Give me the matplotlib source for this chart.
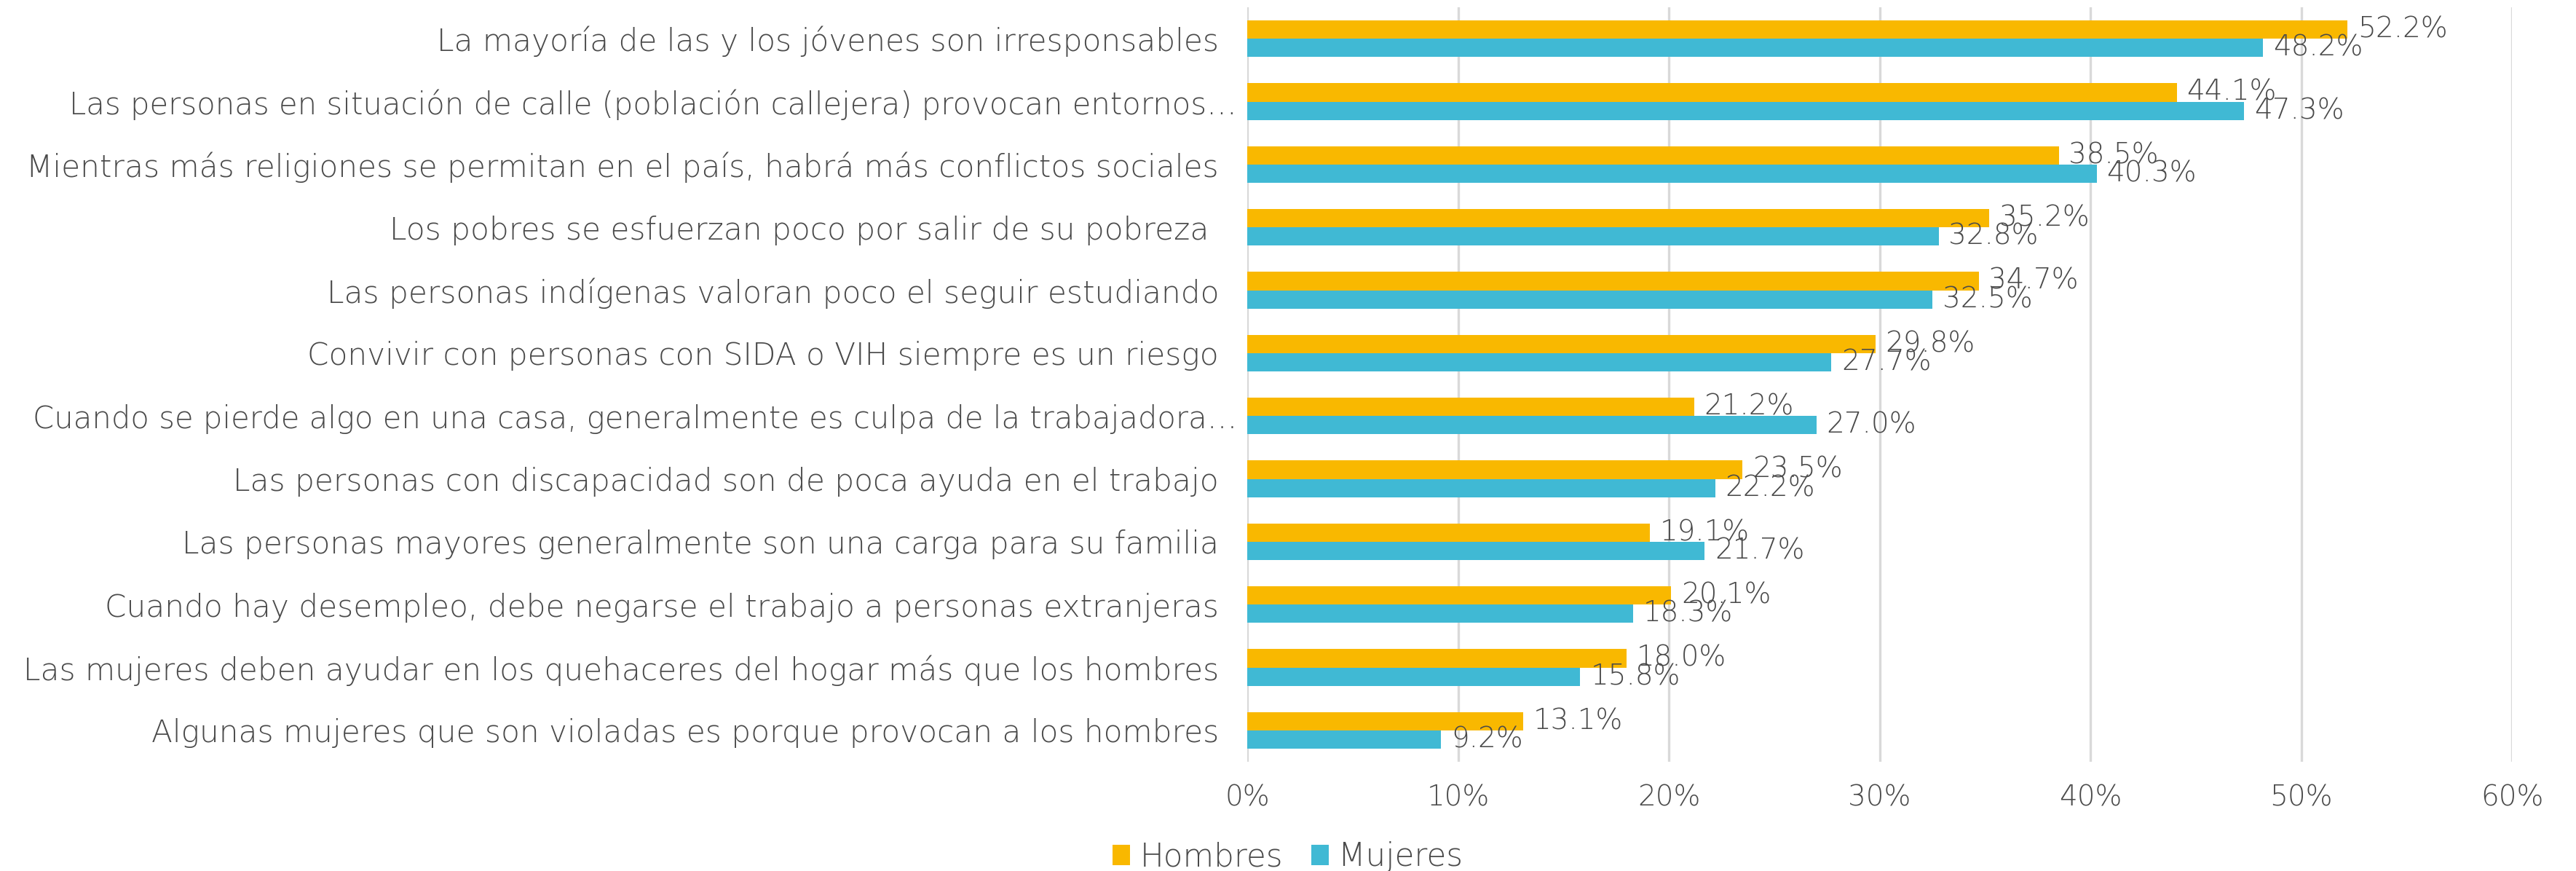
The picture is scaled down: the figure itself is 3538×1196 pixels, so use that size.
import matplotlib
matplotlib.use("Agg")
import matplotlib.pyplot as plt
from matplotlib import font_manager
import numpy as np

categories = [
    "La mayoría de las y los jóvenes son irresponsables",
    "Las personas en situación de calle (población callejera) provocan entornos…",
    "Mientras más religiones se permitan en el país, habrá más conflictos sociales",
    "Los pobres se esfuerzan poco por salir de su pobreza ",
    "Las personas indígenas valoran poco el seguir estudiando",
    "Convivir con personas con SIDA o VIH siempre es un riesgo",
    "Cuando se pierde algo en una casa, generalmente es culpa de la trabajadora…",
    "Las personas con discapacidad son de poca ayuda en el trabajo",
    "Las personas mayores generalmente son una carga para su familia",
    "Cuando hay desempleo, debe negarse el trabajo a personas extranjeras",
    "Las mujeres deben ayudar en los quehaceres del hogar más que los hombres",
    "Algunas mujeres que son violadas es porque provocan a los hombres",
]
hombres = [52.2, 44.1, 38.5, 35.2, 34.7, 29.8, 21.2, 23.5, 19.1, 20.1, 18.0, 13.1]
mujeres = [48.2, 47.3, 40.3, 32.8, 32.5, 27.7, 27.0, 22.2, 21.7, 18.3, 15.8, 9.2]
series_names = ["Hombres", "Mujeres"]
xticks = [0, 10, 20, 30, 40, 50, 60]

C_H = "#F9B800"
C_M = "#40B9D4"
TXT = "#4A4A4A"
GRID = "#D9D9D9"

plt.rcParams['font.family'] = ['DejaVu Sans']
light = any(f.name == 'DejaVu Sans' and (f.weight if isinstance(f.weight, int) else 400) <= 300
            for f in font_manager.fontManager.ttflist)
W = 'light' if light else 'normal'

fig = plt.figure(figsize=(3538/200, 1196/200), dpi=200)
ax = fig.add_axes([1713/3538, 1 - 1046/1196, (3450-1713)/3538, (1046-10)/1196])

y = np.arange(len(categories))
h = 0.29
bh = ax.barh(y - h/2, hombres, height=h, color=C_H, label=series_names[0], zorder=3)
bm = ax.barh(y + h/2, mujeres, height=h, color=C_M, label=series_names[1], zorder=3)

for rects, vals in ((bh, hombres), (bm, mujeres)):
    for r, v in zip(rects, vals):
        ax.annotate(f"{v:.1f}%", (r.get_width(), r.get_y() + r.get_height()/2),
                    xytext=(5, 0), textcoords="offset points",
                    ha="left", va="center", fontsize=14, color=TXT,
                    fontweight=W, zorder=5)

ax.set_ylim(len(categories) - 0.5, -0.5)
ax.set_xlim(0, 60)
ax.set_xticks(xticks)
ax.set_xticklabels([f"{t}%" for t in xticks], fontsize=14, color=TXT, fontweight=W)
ax.set_yticks(y)
ax.set_yticklabels(categories, fontsize=15.2, color=TXT, fontweight=W)
ax.tick_params(axis="both", length=0)
ax.tick_params(axis="x", pad=11)
for i, (t, lab) in enumerate(zip(ax.yaxis.get_major_ticks(), ax.get_yticklabels())):
    if categories[i].endswith("…"):
        t.set_pad(5)
        lab.set_fontsize(15.05)
    else:
        t.set_pad(14)
ax.xaxis.grid(True, color=GRID, linewidth=1.2, zorder=0)
ax.set_axisbelow(True)
for s in ax.spines.values():
    s.set_visible(False)

leg = fig.legend(handles=[bh, bm], labels=series_names, loc="center",
                 bbox_to_anchor=(0.5, 1 - 1177/1196), ncol=2, frameon=False,
                 prop={'size': 15.7, 'weight': W}, labelcolor=TXT,
                 handlelength=0.55, handleheight=0.6,
                 handletextpad=0.3, columnspacing=0.9)

fig.savefig("out.png", dpi=200)
